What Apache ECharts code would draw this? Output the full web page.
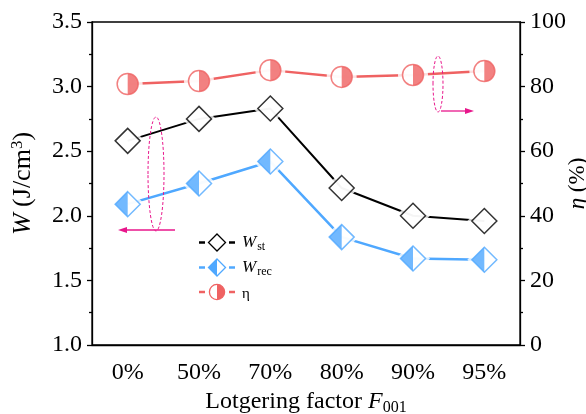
<!DOCTYPE html>
<html><head><meta charset="utf-8">
<script src="https://cdn.jsdelivr.net/npm/echarts@6/dist/echarts.min.js"></script>
<style>html,body{margin:0;padding:0;background:#fff}#c{width:586px;height:414px}</style>
</head><body><div id="c"></div>
<script>
var categories = ['0%', '50%', '70%', '80%', '90%', '95%'];
var wSt = [2.58, 2.75, 2.83, 2.215, 2.0, 1.96];
var wRec = [2.09, 2.25, 2.42, 1.835, 1.67, 1.66];
var eta = [80.8, 81.7, 85.1, 83.0, 83.6, 84.8];
var leftTicks = [1.0, 1.5, 2.0, 2.5, 3.0, 3.5];
var rightTicks = [0, 20, 40, 60, 80, 100];

var BLACK = '#000', BLUE = '#4FA8FF', RED = '#EF6262', MAG = '#E8168B';
var FONT = '"Liberation Serif", "Times New Roman", serif';

var DIA = 25, CIR = 21, HALO = 9;

function svgIcon(inner) {
  var s = '<svg xmlns="http://www.w3.org/2000/svg" width="36" height="20" viewBox="0 0 36 20">' + inner + '</svg>';
  return 'image://data:image/svg+xml;charset=utf-8,' + encodeURIComponent(s);
}
function dashes(c) {
  return '<line x1="0" y1="10" x2="6" y2="10" stroke="' + c + '" stroke-width="2.5"/><line x1="30" y1="10" x2="36" y2="10" stroke="' + c + '" stroke-width="2.5"/>';
}
var iconSt = svgIcon(dashes('#000') + '<polygon points="18,1.5 26.5,10 18,18.5 9.5,10" fill="#fff" stroke="#000" stroke-width="1.3"/>');
var iconRec = svgIcon(dashes('#4FA8FF') + '<polygon points="18,1.5 26.5,10 18,18.5 9.5,10" fill="#fff" stroke="#4FA8FF" stroke-width="1.3"/><polygon points="18,1.5 18,18.5 9.5,10" fill="#4FA8FF"/>');
var iconEta = svgIcon(dashes('#EF6262') + '<circle cx="18" cy="10" r="7.6" fill="#fff" stroke="#EF6262" stroke-width="1.3"/><path d="M18,2.4 A7.6,7.6 0 0,1 18,17.6 Z" fill="#EF6262"/>');

function lineSeries(name, data, color, yIdx, width) {
  return {name: name, type: 'line', data: data, yAxisIndex: yIdx, showSymbol: false, silent: true,
    lineStyle: {color: color, width: width}, itemStyle: {color: color}, z: 2, animation: false};
}
function markerSeries(name, data, yIdx, symbol, size, color, fill, z, offset) {
  return {name: name, type: 'scatter', data: data, yAxisIndex: yIdx, symbol: symbol, symbolSize: size,
    symbolOffset: offset || [0, 0], silent: true, animation: false,
    itemStyle: fill ? {color: color, borderWidth: 0} : {color: '#fff', borderColor: color, borderWidth: 1.5},
    z: z};
}
function haloSeries(data, yIdx, symbol, size) {
  return {type: 'scatter', data: data, yAxisIndex: yIdx, symbol: symbol, symbolSize: size, silent: true,
    animation: false, itemStyle: {color: '#fff', borderWidth: 0}, z: 3};
}

var halfLeftTri = 'path://M10,0 L0,10 L10,20 Z';
var halfRightCirc = 'path://M0,0 A10,10 0 0,1 0,20 Z';

var chart = echarts.init(document.getElementById('c'));
chart.setOption({
  animation: false,
  textStyle: {fontFamily: FONT},
  grid: {left: 92, right: 66, top: 22, bottom: 69, show: true, borderColor: '#000', borderWidth: 1.3,
    backgroundColor: 'transparent', containLabel: false, outerBoundsMode: 'none'},
  legend: {
    orient: 'vertical', left: 199, top: 232, itemWidth: 36, itemHeight: 20, itemGap: 4, padding: 0,
    selectedMode: false,
    data: [{name: 'Wst', icon: iconSt}, {name: 'Wrec', icon: iconRec}, {name: 'eta', icon: iconEta}],
    formatter: function (n) {
      if (n === 'Wst') return '{w|W}{s|st}';
      if (n === 'Wrec') return '{w|W}{s|rec}';
      return '{e|η}';
    },
    textStyle: {
      fontFamily: FONT, color: '#000', padding: [0, 0, 0, 2],
      rich: {
        w: {fontFamily: FONT, fontStyle: 'italic', fontSize: 17, color: '#000', lineHeight: 20},
        s: {fontFamily: FONT, fontSize: 12, color: '#000', padding: [9, 0, 0, 1], lineHeight: 20},
        e: {fontFamily: FONT, fontSize: 15, color: '#000', padding: [4, 0, 0, 0], lineHeight: 20}
      }
    }
  },
  xAxis: {
    type: 'category', data: categories, boundaryGap: true,
    axisLine: {lineStyle: {color: '#000', width: 1.3}},
    axisTick: {alignWithLabel: true, length: 6, lineStyle: {color: '#000', width: 1.3}},
    axisLabel: {color: '#000', fontSize: 24, fontFamily: FONT, margin: 16},
    name: '{n|Lotgering factor }{i|F}{s|001}', nameLocation: 'middle', nameGap: 41,
    nameTextStyle: {rich: {
      n: {fontFamily: FONT, fontSize: 24, color: '#000'},
      i: {fontFamily: FONT, fontSize: 24, fontStyle: 'italic', color: '#000'},
      s: {fontFamily: FONT, fontSize: 16, color: '#000', padding: [12, 0, 0, 0]}
    }}
  },
  yAxis: [{
    type: 'value', min: 1.0, max: 3.5, interval: 0.5, position: 'left',
    axisLine: {show: true, lineStyle: {color: '#000', width: 1.3}},
    axisTick: {show: true, length: 5, lineStyle: {color: '#000', width: 1.3}},
    minorTick: {show: true, splitNumber: 2, length: 3, lineStyle: {color: '#000', width: 1.3}},
    splitLine: {show: false},
    axisLabel: {color: '#000', fontSize: 24, fontFamily: FONT, margin: 10,
      formatter: function (v) { return v.toFixed(1); }},
    name: '{i|W}{n| (J/cm}{p|3}{n|)}', nameLocation: 'middle', nameGap: 54, nameRotate: 90,
    nameTextStyle: {rich: {
      i: {fontFamily: FONT, fontSize: 26, fontStyle: 'italic', color: '#000'},
      n: {fontFamily: FONT, fontSize: 26, color: '#000'},
      p: {fontFamily: FONT, fontSize: 17, color: '#000', padding: [0, 0, 12, 0]}
    }}
  }, {
    type: 'value', min: 0, max: 100, interval: 20, position: 'right',
    axisLine: {show: true, lineStyle: {color: '#000', width: 1.3}},
    axisTick: {show: true, length: 5, lineStyle: {color: '#000', width: 1.3}},
    minorTick: {show: true, splitNumber: 2, length: 3, lineStyle: {color: '#000', width: 1.3}},
    splitLine: {show: false},
    axisLabel: {color: '#000', fontSize: 24, fontFamily: FONT, margin: 10},
    name: '{i|η}{n| (%)}', nameLocation: 'middle', nameGap: 46, nameRotate: 90, nameMoveOverlap: false,
    nameTextStyle: {rich: {
      i: {fontFamily: FONT, fontSize: 23, fontStyle: 'italic', color: '#000'},
      n: {fontFamily: FONT, fontSize: 23, color: '#000'}
    }}
  }],
  series: [
    lineSeries('Wst', wSt, BLACK, 0, 2),
    lineSeries('Wrec', wRec, BLUE, 0, 2.5),
    lineSeries('eta', eta, RED, 1, 2.5),
    haloSeries(wSt, 0, 'diamond', DIA + HALO),
    haloSeries(wRec, 0, 'diamond', DIA + HALO),
    haloSeries(eta, 1, 'circle', CIR + HALO),
    markerSeries('Wst_m', wSt, 0, 'diamond', DIA, BLACK, false, 4),
    markerSeries('Wrec_m', wRec, 0, 'diamond', DIA, BLUE, false, 4),
    markerSeries('Wrec_h', wRec, 0, halfLeftTri, [DIA / 2, DIA], BLUE, true, 5, [-DIA / 4, 0]),
    markerSeries('eta_m', eta, 1, 'circle', CIR, RED, false, 4),
    markerSeries('eta_h', eta, 1, halfRightCirc, [CIR / 2, CIR], RED, true, 5, [CIR / 4, 0])
  ],
  graphic: [
    {type: 'ellipse', shape: {cx: 156, cy: 174, rx: 8, ry: 57}, style: {fill: 'none', stroke: MAG, lineWidth: 1, lineDash: [3, 2]}, z: 10},
    {type: 'line', shape: {x1: 175, y1: 230, x2: 124, y2: 230}, style: {stroke: MAG, lineWidth: 1.3}, z: 10},
    {type: 'polygon', shape: {points: [[118, 230], [127, 227], [127, 233]]}, style: {fill: MAG}, z: 10},
    {type: 'ellipse', shape: {cx: 438, cy: 84, rx: 5, ry: 28}, style: {fill: 'none', stroke: MAG, lineWidth: 1, lineDash: [3, 2]}, z: 10},
    {type: 'line', shape: {x1: 441, y1: 111, x2: 467, y2: 111}, style: {stroke: MAG, lineWidth: 1.3}, z: 10},
    {type: 'polygon', shape: {points: [[474, 111], [465, 108], [465, 114]]}, style: {fill: MAG}, z: 10}
  ]
});
</script></body></html>
